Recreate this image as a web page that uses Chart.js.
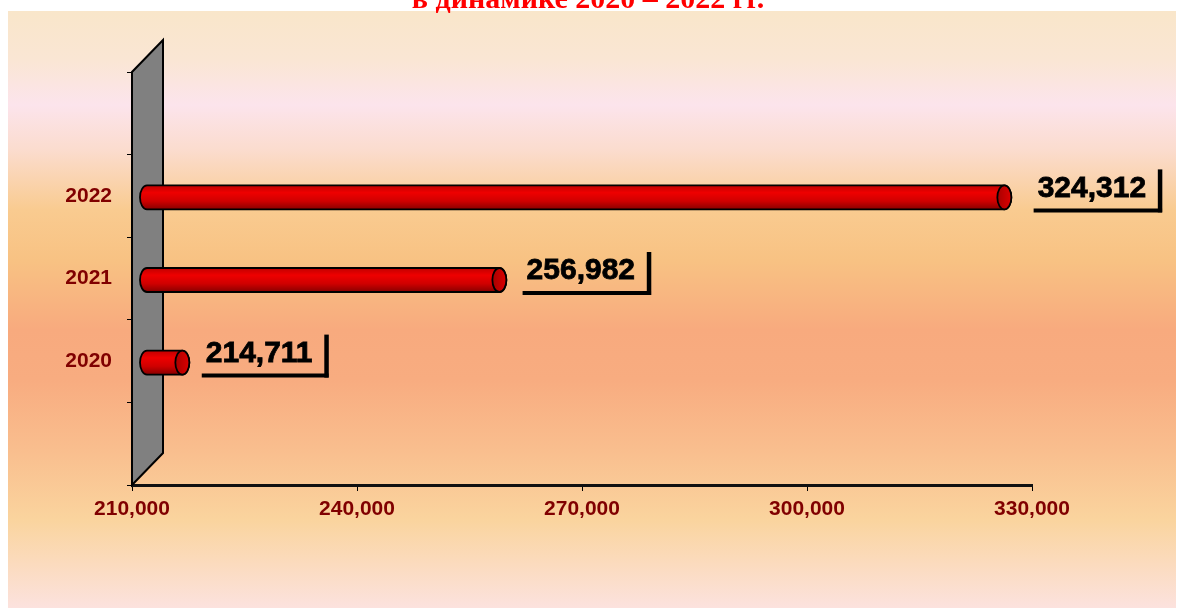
<!DOCTYPE html>
<html>
<head>
<meta charset="utf-8">
<script src="https://cdn.jsdelivr.net/npm/chart.js@4"></script>
<style>
  body { margin: 0; background: #ffffff; }
  #wrap { position: relative; width: 1178px; height: 611px; }
</style>
</head>
<body>
<div id="wrap"><canvas id="myChart"></canvas></div>
<script>
// categories (top to bottom), two empty slots like in the original
const years = ['', '2022', '2021', '2020', ''];
const amounts = [null, 324312, 256982, 214711, null];
const axisMin = 210000;
const axisMax = 330000;
const axisStep = 30000;
const titleText = 'в динамике 2020 – 2022 гг.';

const fmt = v => Number(v).toLocaleString('en-US');

// page background + cut off title
const backdrop = {
    id: 'backdrop',
    beforeDraw(chart) {
        const c = chart.ctx;
        c.save();
        const g = c.createLinearGradient(0, 11, 0, 608);
        const stops = [
            [11, '#F9E6CA'], [60, '#FAE6D4'], [105, '#FCE4EC'], [150, '#FBDCCE'],
            [210, '#F9CB90'], [260, '#F8C283'], [330, '#F8AA7E'], [380, '#F8AC80'],
            [450, '#F9BE8E'], [520, '#FAD49E'], [608, '#FCE2DE']
        ];
        stops.forEach(s => g.addColorStop((s[0] - 11) / 597, s[1]));
        c.fillStyle = g;
        c.fillRect(8, 11, 1168, 597);
        c.fillStyle = '#FF0000';
        c.font = 'bold 30px "Liberation Serif", "Times New Roman", serif';
        c.textAlign = 'center';
        c.textBaseline = 'alphabetic';
        c.fillText(titleText, 588, 8);
        c.restore();
    }
};

// grey 3D wall behind the bars
const wall = {
    id: 'wall',
    beforeDatasetsDraw(chart) {
        const c = chart.ctx;
        const a = chart.chartArea;
        const depth = 31;
        c.save();
        c.beginPath();
        c.moveTo(a.left, a.bottom);
        c.lineTo(a.left, a.top);
        c.lineTo(a.left + depth, a.top - 32);
        c.lineTo(a.left + depth, a.bottom - 32);
        c.closePath();
        c.fillStyle = '#808080';
        c.fill();
        c.lineWidth = 2;
        c.strokeStyle = '#000';
        c.stroke();
        c.restore();
    }
};

// cylinders drawn on the bar elements + boxed value labels
const cylinders = {
    id: 'cylinders',
    afterDatasetsDraw(chart) {
        const c = chart.ctx;
        const meta = chart.getDatasetMeta(0);
        const xs = chart.scales.x;
        const left = xs.getPixelForValue(axisMin);
        const dx = 15, dy = 1.5, rx = 7;
        c.save();
        meta.data.forEach((el, i) => {
            if (amounts[i] == null) return;
            const x0 = left + dx;
            const x1 = el.x + dx;
            const yc = el.y + dy;
            const h = el.height;
            const top = yc - h / 2, bot = yc + h / 2;
            const g = c.createLinearGradient(0, top, 0, bot);
            g.addColorStop(0, '#C00000');
            g.addColorStop(0.3, '#EE0000');
            g.addColorStop(0.65, '#D00000');
            g.addColorStop(1, '#880000');
            c.beginPath();
            c.moveTo(x0, top);
            c.lineTo(x1, top);
            c.ellipse(x1, yc, rx, h / 2, 0, -Math.PI / 2, Math.PI / 2);
            c.lineTo(x0, bot);
            c.ellipse(x0, yc, rx, h / 2, 0, Math.PI / 2, Math.PI * 1.5);
            c.closePath();
            c.fillStyle = g;
            c.fill();
            c.lineWidth = 1.8;
            c.strokeStyle = '#000';
            c.stroke();
            // end cap
            const g2 = c.createLinearGradient(x1 - rx, 0, x1 + rx, 0);
            g2.addColorStop(0, '#A80000');
            g2.addColorStop(1, '#DD0000');
            c.beginPath();
            c.ellipse(x1, yc, rx, h / 2, 0, 0, Math.PI * 2);
            c.fillStyle = g2;
            c.fill();
            c.stroke();

            // value label with underline and right bar
            const txt = fmt(amounts[i]);
            c.font = 'bold 30px "Liberation Sans", Arial, sans-serif';
            c.fillStyle = '#000';
            c.textAlign = 'left';
            c.textBaseline = 'middle';
            const tx = el.x + 38 + (el.x - left) * 0.012;
            const ty = yc - 9;
            c.fillText(txt, tx, ty);
            c.lineWidth = 0.8;
            c.strokeText(txt, tx, ty);
            const w = c.measureText(txt).width;
            const right = tx + w + 14;
            c.beginPath();
            c.lineWidth = 4;
            c.moveTo(tx - 4, yc + 13);
            c.lineTo(right + 2, yc + 13);
            c.stroke();
            c.beginPath();
            c.lineWidth = 4.5;
            c.moveTo(right, yc - 28);
            c.lineTo(right, yc + 15);
            c.stroke();
        });
        c.restore();
    }
};

const ctx = document.getElementById('myChart');

const config = {
    type: 'bar',
    data: {
        labels: years,
        datasets: [{
            label: 'values',
            data: amounts,
            backgroundColor: 'rgba(0,0,0,0)',
            borderWidth: 0,
            barThickness: 24
        }]
    },
    options: {
        indexAxis: 'y',
        responsive: true,
        maintainAspectRatio: false,
        animation: false,
        layout: {
            padding: { top: 72, right: 146, left: 0, bottom: 0 }
        },
        plugins: {
            legend: { display: false },
            title: { display: false },
            tooltip: { enabled: false }
        },
        scales: {
            x: {
                type: 'linear',
                min: axisMin,
                max: axisMax,
                afterFit: s => { s.height = 126; },
                ticks: {
                    stepSize: axisStep,
                    color: '#800000',
                    padding: 6,
                    font: { family: '"Liberation Sans", Arial, sans-serif', size: 21, weight: 'bold' },
                    callback: v => fmt(v)
                },
                grid: {
                    drawOnChartArea: false,
                    color: '#000',
                    tickLength: 6
                },
                border: { display: true, color: '#111', width: 3 }
            },
            y: {
                type: 'category',
                afterFit: s => { s.width = 132; },
                ticks: {
                    color: '#800000',
                    padding: 15,
                    autoSkip: false,
                    font: { family: '"Liberation Sans", Arial, sans-serif', size: 21, weight: 'bold' }
                },
                grid: {
                    drawOnChartArea: false,
                    color: '#000',
                    tickLength: 5,
                    offset: true
                },
                border: { display: false }
            }
        }
    },
    plugins: [backdrop, wall, cylinders]
};

let myChart = new Chart(ctx, config);
</script>
</body>
</html>
